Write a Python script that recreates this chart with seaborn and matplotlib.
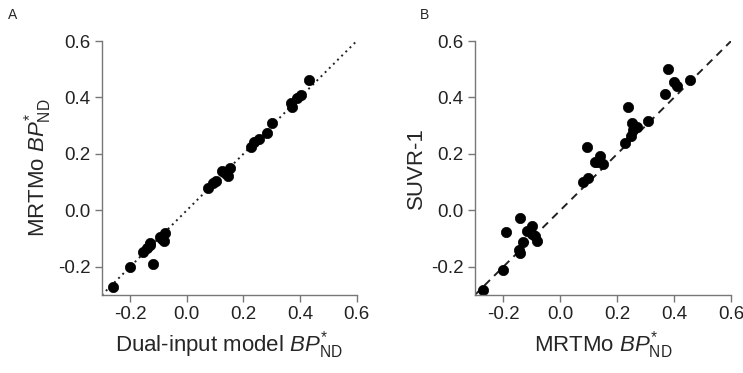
import numpy as np
import pandas as pd
import seaborn as sns
import matplotlib.pyplot as plt

# Panel A: dual-input model vs MRTMo
dual_input = [-0.26, -0.20, -0.12, -0.153, -0.141, -0.129, -0.13, -0.088, -0.082, -0.077, -0.094,
              0.076, 0.094, 0.103, 0.135, 0.153, 0.147, 0.123, 0.226, 0.237, 0.255, 0.285,
              0.300, 0.368, 0.372, 0.390, 0.405, 0.430]
mrtmo_a = [-0.27, -0.20, -0.19, -0.147, -0.133, -0.121, -0.115, -0.103, -0.11, -0.08, -0.094,
           0.079, 0.097, 0.103, 0.132, 0.150, 0.123, 0.138, 0.226, 0.244, 0.252, 0.273,
           0.311, 0.381, 0.368, 0.399, 0.408, 0.461]

# Panel B: MRTMo vs SUVR-1
mrtmo_b = [-0.270, -0.200, -0.190, -0.141, -0.144, -0.140, -0.130, -0.118, -0.100, -0.089, -0.083,
           -0.100, 0.081, 0.099, 0.095, 0.122, 0.140, 0.149, 0.130, 0.228, 0.249, 0.239,
           0.251, 0.269, 0.255, 0.309, 0.368, 0.380, 0.400, 0.409, 0.456]
suvr = [-0.283, -0.213, -0.076, -0.027, -0.139, -0.150, -0.113, -0.074, -0.057, -0.092, -0.109,
        -0.083, 0.102, 0.114, 0.224, 0.173, 0.191, 0.165, 0.170, 0.238, 0.262, 0.365,
        0.309, 0.297, 0.285, 0.316, 0.412, 0.502, 0.455, 0.440, 0.462]

ticks = [-0.2, 0.0, 0.2, 0.4, 0.6]
tick_labels = ['-0.2', '0.0', '0.2', '0.4', '0.6']
lims = (-0.3, 0.6)

sns.set_style("ticks")
plt.rcParams['font.family'] = ['Liberation Sans', 'DejaVu Sans']
plt.rcParams['mathtext.fontset'] = 'custom'
plt.rcParams['mathtext.rm'] = 'Liberation Sans'
plt.rcParams['mathtext.it'] = 'Liberation Sans:italic'

fig = plt.figure(figsize=(7.43, 3.73), dpi=100)
ax_a = fig.add_axes([0.137, 0.209, 0.343, 0.681])
ax_b = fig.add_axes([0.639, 0.209, 0.345, 0.681])

df_a = pd.DataFrame({'x': dual_input, 'y': mrtmo_a})
df_b = pd.DataFrame({'x': mrtmo_b, 'y': suvr})

for ax, df, ls in [(ax_a, df_a, (0, (1, 2))), (ax_b, df_b, (0, (4, 3)))]:
    ax.plot(lims, lims, color='#222222', linestyle=ls, linewidth=1.4, zorder=1)
    sns.scatterplot(data=df, x='x', y='y', ax=ax, color='black', s=55,
                    edgecolor='black', linewidth=0.5, zorder=2, clip_on=False)
    ax.set_xlim(lims)
    ax.set_ylim(lims)
    ax.set_xticks(ticks)
    ax.set_yticks(ticks)
    ax.set_xticklabels(tick_labels)
    ax.set_yticklabels(tick_labels)
    ax.tick_params(axis='both', labelsize=13.5, length=5, width=1, color='#777777',
                   labelcolor='#222222', direction='out', pad=3)
    for sp in ['top', 'right']:
        ax.spines[sp].set_visible(False)
    for sp in ['left', 'bottom']:
        ax.spines[sp].set_color('#777777')
        ax.spines[sp].set_linewidth(1)

ax_a.set_xlabel(r'Dual-input model $\mathit{BP}^{*}_{\mathrm{ND}}$', fontsize=16, labelpad=4)
ax_a.set_ylabel(r'MRTMo $\mathit{BP}^{*}_{\mathrm{ND}}$', fontsize=16, labelpad=3)
ax_b.set_xlabel(r'MRTMo $\mathit{BP}^{*}_{\mathrm{ND}}$', fontsize=16, labelpad=4)
ax_b.set_ylabel('SUVR-1', fontsize=16, labelpad=3)

fig.text(0.011, 0.96, 'A', fontsize=10, va='center', ha='left')
fig.text(0.565, 0.96, 'B', fontsize=10, va='center', ha='left')

plt.savefig('out.png', dpi=100)
